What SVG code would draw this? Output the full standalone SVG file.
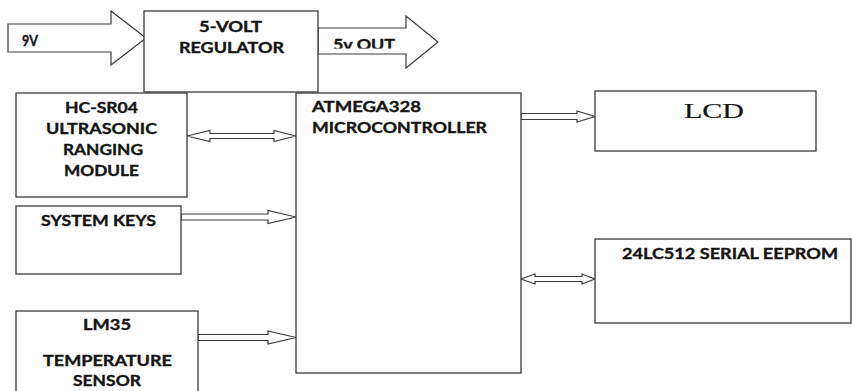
<svg xmlns="http://www.w3.org/2000/svg" width="852" height="391" viewBox="0 0 852 391">
  <style>
    .box { fill: #ffffff; stroke: #3a3a3a; stroke-width: 1.3; }
    .arr { fill: #ffffff; stroke: #3a3a3a; stroke-width: 1.2; stroke-linejoin: miter; }
    .t { font-family: Lato, "Liberation Sans", sans-serif; font-weight: bold; font-size: 14.5px; fill: #141414; stroke: #141414; stroke-width: 0.35; }
    .serif { font-family: "Liberation Serif", "DejaVu Serif", serif; font-size: 22px; fill: #141414; stroke: #141414; stroke-width: 0.2; }
  </style>
  <defs>
    <clipPath id="clip5v">
      <rect x="320" y="29" width="85" height="19.5"/>
    </clipPath>
  </defs>
  <rect width="852" height="391" fill="#ffffff"/>

  <g id="connectors">
    <polygon id="arrow-9v" class="arr" points="8,24 111,24 111,11 146,38 111,65 111,52 8,52"/>
    <polygon id="arrow-5v" class="arr" points="318,28 406,28 406,16 438,42 406,68 406,54 318,54"/>
    <polygon id="arrow-hc" class="arr" points="187,136 210,130.5 210,133.5 274,133.5 274,130.5 296,136 274,141.5 274,138.5 210,138.5 210,141.5"/>
    <polygon id="arrow-keys" class="arr" points="181,214 268,214 268,210.5 296,217 268,223.5 268,220 181,220"/>
    <polygon id="arrow-lm35" class="arr" points="198,334.5 268,334.5 268,331 296,337.5 268,344 268,340.5 198,340.5"/>
    <polygon id="arrow-lcd" class="arr" points="521,113.5 577,113.5 577,111 595,116.5 577,122 577,119.5 521,119.5"/>
    <polygon id="arrow-eeprom" class="arr" points="521,279 535,274 535,276.5 582,276.5 582,274 595,279 582,284 582,281.5 535,281.5 535,284"/>
    <text class="t" x="22" y="46" textLength="16" lengthAdjust="spacingAndGlyphs">9V</text>
    <g clip-path="url(#clip5v)">
      <text class="t" x="333" y="49.5" textLength="62" lengthAdjust="spacingAndGlyphs">5v OUT</text>
    </g>
  </g>

  <g id="regulator">
    <rect class="box" x="144" y="11" width="174" height="81"/>
    <text class="t" x="199" y="32" textLength="63" lengthAdjust="spacingAndGlyphs">5-VOLT</text>
    <text class="t" x="179" y="53" textLength="105" lengthAdjust="spacingAndGlyphs">REGULATOR</text>
  </g>

  <g id="hcsr04">
    <rect class="box" x="16" y="93" width="171" height="104"/>
    <text class="t" x="65" y="113" textLength="73" lengthAdjust="spacingAndGlyphs">HC-SR04</text>
    <text class="t" x="46" y="134" textLength="111" lengthAdjust="spacingAndGlyphs">ULTRASONIC</text>
    <text class="t" x="63" y="155" textLength="80" lengthAdjust="spacingAndGlyphs">RANGING</text>
    <text class="t" x="64" y="176" textLength="75" lengthAdjust="spacingAndGlyphs">MODULE</text>
  </g>

  <g id="system-keys">
    <rect class="box" x="16" y="206" width="165" height="68"/>
    <text class="t" x="41" y="226" textLength="115" lengthAdjust="spacingAndGlyphs">SYSTEM KEYS</text>
  </g>

  <g id="lm35">
    <rect class="box" x="16" y="311" width="182" height="100"/>
    <text class="t" x="83" y="330" textLength="48" lengthAdjust="spacingAndGlyphs">LM35</text>
    <text class="t" x="43" y="366" textLength="129" lengthAdjust="spacingAndGlyphs">TEMPERATURE</text>
    <text class="t" x="73" y="386" textLength="68" lengthAdjust="spacingAndGlyphs">SENSOR</text>
  </g>

  <g id="mcu">
    <rect class="box" x="296" y="93" width="225" height="280"/>
    <text class="t" x="312" y="112" textLength="109" lengthAdjust="spacingAndGlyphs">ATMEGA328</text>
    <text class="t" x="312" y="133" textLength="175" lengthAdjust="spacingAndGlyphs">MICROCONTROLLER</text>
  </g>

  <g id="lcd">
    <rect class="box" x="595" y="91" width="221" height="60"/>
    <text class="serif" x="684" y="118" textLength="60" lengthAdjust="spacingAndGlyphs">LCD</text>
  </g>

  <g id="eeprom">
    <rect class="box" x="595" y="239" width="256" height="84"/>
    <text class="t" x="622" y="259" textLength="216" lengthAdjust="spacingAndGlyphs">24LC512 SERIAL EEPROM</text>
  </g>
</svg>
